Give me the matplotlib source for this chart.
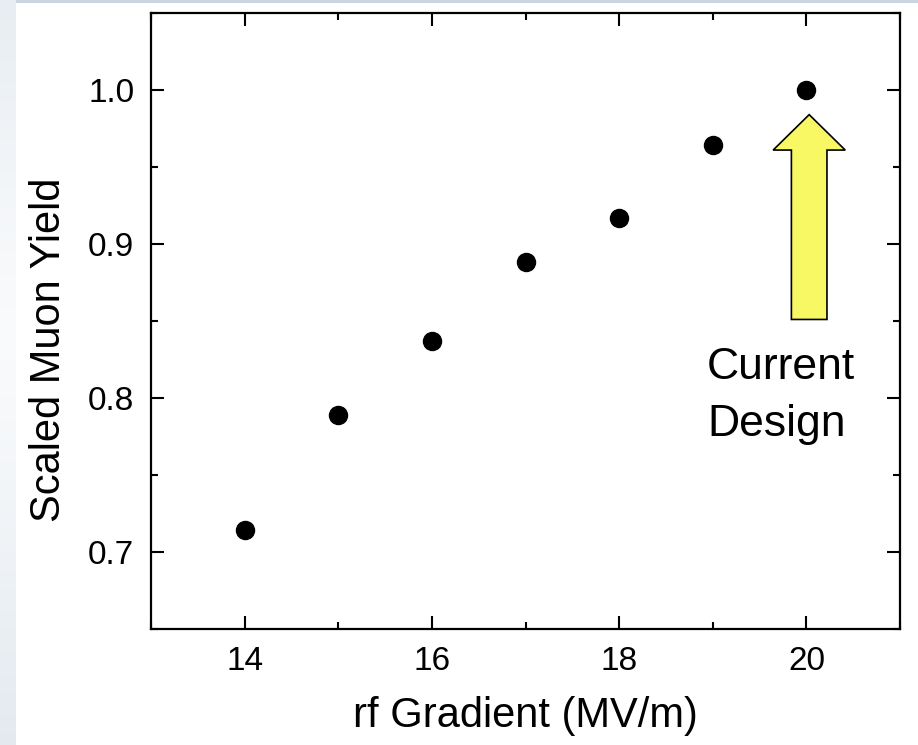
import numpy as np
import matplotlib.pyplot as plt
from matplotlib.patches import Rectangle, FancyArrow
from matplotlib.ticker import MultipleLocator

plt.rcParams['font.family'] = ['Liberation Sans', 'DejaVu Sans']

gradient = [14, 15, 16, 17, 18, 19, 20]
muon_yield = [0.714, 0.789, 0.837, 0.888, 0.917, 0.964, 1.0]

W, H = 918, 745
fig = plt.figure(figsize=(W / 100, H / 100), dpi=100)
fig.patch.set_facecolor('#c9d6e2')

# left gradient strip of the slide background
bg = fig.add_axes([0, 0, 16 / W, 1])
t = np.linspace(0, 1, 200)
shade = 1 - 0.9 * np.abs(t - 0.45) ** 1.2
col = np.array([0.78, 0.83, 0.88])
img = col + (1 - col) * shade[:, None] * 0.9
bg.imshow(img[:, None, :], aspect='auto', extent=[0, 1, 0, 1])
bg.axis('off')
fig.patches.append(Rectangle((16 / W, 0), 1, (H - 3) / H, transform=fig.transFigure,
                             facecolor='white', edgecolor='none', zorder=-1))

ax = fig.add_axes([151 / W, 1 - 629 / H, (900 - 151) / W, (629 - 13) / H])
ax.plot(gradient, muon_yield, 'o', color='black', markersize=13)

ax.set_xlim(13, 21)
ax.set_ylim(0.65, 1.05)
ax.xaxis.set_major_locator(MultipleLocator(2))
ax.xaxis.set_minor_locator(MultipleLocator(1))
ax.yaxis.set_major_locator(MultipleLocator(0.1))
ax.yaxis.set_minor_locator(MultipleLocator(0.05))
ax.yaxis.set_major_formatter(plt.FormatStrFormatter('%.1f'))
ax.tick_params(which='both', direction='in', top=True, right=True, width=1.5,
               labelsize=24, pad=12)
ax.tick_params(which='major', length=9.5)
ax.tick_params(which='minor', length=5)
for s in ax.spines.values():
    s.set_linewidth(1.6)

ax.set_xlabel('rf Gradient (MV/m)', fontsize=30, labelpad=14)
ax.set_ylabel('Scaled Muon Yield', fontsize=30, labelpad=14, y=0.453)

# arrow pointing at the current design point
ax.add_patch(FancyArrow(20.03, 0.851, 0, 0.133, width=0.38, head_width=0.77,
                        head_length=0.023, length_includes_head=True,
                        facecolor='#f8f864', edgecolor='black', linewidth=1.2))
ax.text(18.94, 0.801, 'Current\nDesign', fontsize=32, ha='left', va='center',
        linespacing=1.5)

fig.savefig('out.png', dpi=100, facecolor=fig.get_facecolor())
